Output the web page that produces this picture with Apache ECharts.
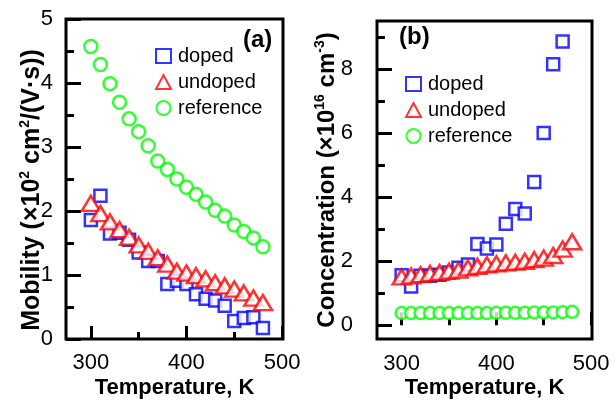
<!DOCTYPE html>
<html>
<head>
<meta charset="utf-8">
<script src="https://cdn.jsdelivr.net/npm/echarts@6/dist/echarts.min.js"></script>
<style>
    html, body { margin: 0; padding: 0; background: #fff; }
    #main { width: 615px; height: 406px; }
</style>
</head>
<body>
<div id="main"></div>
<script>
    // temperatures (K)
    var temps = [300, 310, 320, 330, 340, 350, 360, 370, 380, 390, 400, 410, 420, 430, 440, 450, 460, 470, 480];
    var tempsDopedB = [300, 310, 320, 330, 340, 350, 360, 370, 380, 390, 400, 410, 420, 430, 440, 450, 460, 470];

    // (a) mobility, x10^2 cm^2/(V s)
    var mobDoped = [1.86, 2.24, 1.65, 1.66, 1.55, 1.35, 1.22, 1.22, 0.86, 0.91, 0.86, 0.70, 0.63, 0.60, 0.52, 0.28, 0.33, 0.34, 0.17];
    var mobUndoped = [2.12, 1.96, 1.83, 1.71, 1.59, 1.47, 1.37, 1.27, 1.17, 1.06, 1.03, 0.99, 0.94, 0.88, 0.83, 0.78, 0.72, 0.64, 0.57];
    var mobReference = [4.57, 4.29, 3.99, 3.70, 3.44, 3.24, 3.02, 2.78, 2.65, 2.50, 2.37, 2.26, 2.14, 2.01, 1.92, 1.78, 1.68, 1.58, 1.44];

    // (b) concentration, x10^16 cm^-3
    var concDoped = [1.56, 1.21, 1.55, 1.55, 1.58, 1.65, 1.80, 1.90, 2.54, 2.40, 2.52, 3.17, 3.63, 3.49, 4.48, 6.01, 8.16, 8.87];
    var concUndoped = [1.51, 1.54, 1.58, 1.62, 1.65, 1.69, 1.72, 1.79, 1.84, 1.89, 1.92, 1.95, 1.97, 2.00, 2.05, 2.10, 2.18, 2.38, 2.61];
    var concReference = [0.38, 0.38, 0.38, 0.38, 0.38, 0.38, 0.38, 0.38, 0.38, 0.38, 0.39, 0.39, 0.39, 0.39, 0.40, 0.40, 0.40, 0.41, 0.42];

    var xMajor = [300, 400, 500];
    var xMinor = [350, 450];
    var yMajorA = [0, 1, 2, 3, 4, 5];
    var yMinorA = [0.5, 1.5, 2.5, 3.5, 4.5];
    var yMajorB = [0, 2, 4, 6, 8];
    var yMinorB = [1, 3, 5, 7, 9];

    var FONT = 'Liberation Sans, Arial, sans-serif';

    function pairs(xs, ys) {
        return xs.map(function (x, i) { return [x, ys[i]]; });
    }

    function tickAxis(gridIndex, pos, min, max, ticks, len, labels, margin) {
        return {
            type: 'value', gridIndex: gridIndex, position: pos, min: min, max: max,
            axisLine: {show: false},
            splitLine: {show: false},
            axisTick: {show: true, inside: true, length: len, customValues: ticks,
                lineStyle: {color: '#000', width: 3}},
            axisLabel: labels ? {show: true, customValues: labels, margin: margin,
                fontSize: 22, fontFamily: FONT, color: '#000'} : {show: false}
        };
    }

    function nameStyle(size, pad) {
        return {
            fontSize: size, fontWeight: 'bold', fontFamily: FONT, color: '#000', lineHeight: size + 4,
            padding: pad || 0,
            rich: {
                s: {fontSize: 14, fontWeight: 'bold', fontFamily: FONT, color: '#000', verticalAlign: 'top', lineHeight: 15}
            }
        };
    }

    var xa = tickAxis(0, 'bottom', 274, 501, xMajor, 13, xMajor, 13);
    xa.name = 'Temperature, K'; xa.nameLocation = 'middle'; xa.nameGap = 36; xa.nameTextStyle = nameStyle(22);
    var xb = tickAxis(1, 'bottom', 274, 501, xMajor, 13, xMajor, 14);
    xb.name = 'Temperature, K'; xb.nameLocation = 'middle'; xb.nameGap = 36; xb.nameTextStyle = nameStyle(22);

    var ya = tickAxis(0, 'left', 0, 5, yMajorA, 15, yMajorA, 13);
    ya.name = 'Mobility (×10{s|2} cm{s|2}/(V·s))'; ya.nameLocation = 'middle'; ya.nameGap = 19;
    ya.nameRotate = 90; ya.nameTextStyle = nameStyle(25, [0, 22, 0, 0]);
    var yb = tickAxis(1, 'left', -0.43, 9.51, yMajorB, 15, yMajorB, 24);
    yb.name = 'Concentration (×10{s|16} cm{s|-3})'; yb.nameLocation = 'middle'; yb.nameGap = 36;
    yb.nameRotate = 90; yb.nameTextStyle = nameStyle(24);
    [xa, xb, ya, yb].forEach(function (ax) { ax.nameMoveOverlap = false; });

    function series(name, symbol, size, color, xIdx, yIdx, data) {
        return {
            name: name, type: 'scatter', xAxisIndex: xIdx, yAxisIndex: yIdx,
            symbol: symbol, symbolSize: size, data: data,
            itemStyle: {color: '#fff', borderColor: color, borderWidth: 2.5},
            emphasis: {disabled: true}
        };
    }

    function legendAt(left, top) {
        return {
            orient: 'vertical', left: left, top: top, itemWidth: 15, itemHeight: 14, itemGap: 0,
            textStyle: {fontSize: 20, fontFamily: FONT, color: '#000', lineHeight: 26, padding: [0, 0, 0, 2]},
            data: ['doped', 'undoped', 'reference']
        };
    }

    var chart = echarts.init(document.getElementById('main'));
    chart.setOption({
        animation: false,
        grid: [
            {left: 66, top: 19, right: 332, bottom: 62, show: true, borderColor: '#000', borderWidth: 3},
            {left: 377, top: 21, right: 23, bottom: 61, show: true, borderColor: '#000', borderWidth: 3}
        ],
        xAxis: [
            xa, tickAxis(0, 'bottom', 274, 501, xMinor, 7, null),
            xb, tickAxis(1, 'bottom', 274, 501, xMinor, 7, null)
        ],
        yAxis: [
            ya, tickAxis(0, 'left', 0, 5, yMinorA, 8, null),
            yb, tickAxis(1, 'left', -0.43, 9.51, yMinorB, 8, null)
        ],
        legend: [legendAt(150, 38), legendAt(400, 66)],
        graphic: [
            {type: 'text', left: 243, top: 28, style: {text: '(a)', fontSize: 24, fontWeight: 'bold', fontFamily: FONT, fill: '#000'}},
            {type: 'text', left: 399, top: 25, style: {text: '(b)', fontSize: 24, fontWeight: 'bold', fontFamily: FONT, fill: '#000'}}
        ],
        series: [
            series('doped', 'rect', 12, '#0000ff', 0, 0, pairs(temps, mobDoped)),
            series('undoped', 'triangle', [18, 15], '#ff0000', 0, 0, pairs(temps, mobUndoped)),
            series('reference', 'circle', 13, '#00ff00', 0, 0, pairs(temps, mobReference)),
            series('doped', 'rect', 12, '#0000ff', 2, 2, pairs(tempsDopedB, concDoped)),
            series('undoped', 'triangle', [18, 15], '#ff0000', 2, 2, pairs(temps, concUndoped)),
            series('reference', 'circle', 12, '#00ff00', 2, 2, pairs(temps, concReference))
        ]
    });
</script>
</body>
</html>
